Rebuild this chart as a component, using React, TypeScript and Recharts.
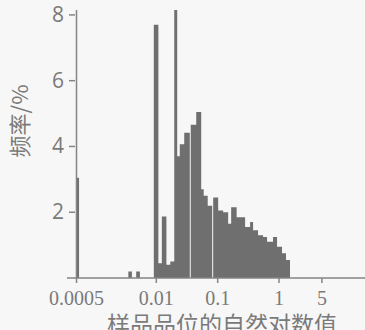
import React from 'react';
import { ComposedChart, Area, XAxis, YAxis, Label, ReferenceLine } from 'recharts';

// bin left edges (sample grade) and frequency (%) of each bin
const binEdges = [
  0.00049, 0.00055, 0.0035, 0.004, 0.0047, 0.0054, 0.0091, 0.0108, 0.0123, 0.0146,
  0.0169, 0.0196, 0.0219, 0.0241, 0.0285, 0.0351, 0.0364, 0.0447, 0.0539, 0.0592,
  0.0688, 0.0814, 0.0845, 0.1019, 0.1228, 0.1482, 0.1659, 0.2037, 0.28, 0.3377,
  0.3777, 0.4555, 0.5494, 0.638, 0.799, 0.928, 1.119, 1.3, 1.51,
];
const binFreq = [
  3.05, 0, 0.2, 0, 0.2, 0, 7.7, 0.45, 1.87, 0.4,
  0.5, 8.15, 3.7, 4.07, 4.42, 0, 4.66, 5.05, 2.7, 2.5,
  2.2, 0, 2.45, 2.05, 2.0, 1.65, 2.15, 1.85, 1.55, 1.7,
  1.45, 1.3, 1.25, 1.1, 1.25, 0.95, 0.75, 0.55, 0,
];
const xTicks = [0.0005, 0.01, 0.1, 1, 5];
const yTicks = [2, 4, 6, 8];

const data = binEdges.map((g, i) => ({ grade: g, freq: binFreq[i] }));

const gray = '#7a7a7a';
const axisGray = '#858585';

// y tick: label on the left, short mark reaching the axis line drawn at 0.0005
const YTick = (props: any) => {
  const { x, y, payload } = props;
  return (
    <g>
      <line x1={x + 4} x2={x + 10} y1={y} y2={y} stroke={axisGray} strokeWidth={1.5} />
      <text x={x - 1} y={y} dy={7} textAnchor="end" fill={gray} fontSize={21} fontFamily="Open Sans">
        {payload.value}
      </text>
    </g>
  );
};

const App: React.FC = () => {
  return (
    <div style={{ position: 'fixed', left: 0, top: 0, width: 365, height: 330, background: '#f7f7f7' }}>
      <ComposedChart
        width={365}
        height={330}
        data={data}
        margin={{ top: 10, right: 0, bottom: 0, left: 0 }}
      >
        <XAxis
          dataKey="grade"
          type="number"
          scale="log"
          domain={[0.00035, 25.2]}
          allowDataOverflow
          ticks={xTicks}
          interval={0}
          tickFormatter={(v: number) => String(v)}
          height={52}
          tickSize={5}
          tickMargin={8}
          axisLine={{ stroke: axisGray, strokeWidth: 1.5 }}
          tickLine={{ stroke: axisGray, strokeWidth: 1.5 }}
          tick={{ fill: gray, fontSize: 20, fontFamily: 'Liberation Serif' }}
        >
          <Label
            value="样品品位的自然对数值"
            position="insideBottom"
            offset={-3}
            dx={6}
            fill={gray}
            fontSize={23}
            fontFamily="Noto Sans CJK SC"
          />
        </XAxis>
        <YAxis
          type="number"
          domain={[0, 8.1]}
          ticks={yTicks}
          width={67}
          axisLine={false}
          tickLine={false}
          tickSize={0}
          tick={(p: any) => <YTick {...p} />}
        >
          <Label
            value="频率/%"
            angle={-90}
            position="center"
            dx={-13}
            dy={-23}
            fill={gray}
            fontSize={22}
            fontFamily="Noto Sans CJK SC"
          />
        </YAxis>
        <Area
          type="stepAfter"
          dataKey="freq"
          stroke="none"
          fill="#6f6f6f"
          fillOpacity={1}
          isAnimationActive={false}
        />
        <ReferenceLine x={0.0005} stroke={axisGray} strokeWidth={1.5} />
      </ComposedChart>
    </div>
  );
};

export default App;
